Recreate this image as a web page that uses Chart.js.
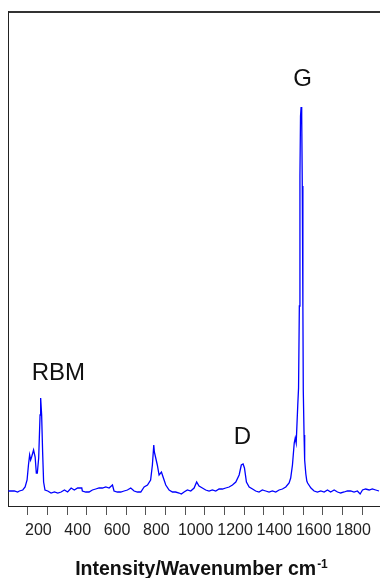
<!DOCTYPE html>
<html>
<head>
<meta charset="utf-8">
<script src="https://cdn.jsdelivr.net/npm/chart.js@4.4.1/dist/chart.umd.min.js"></script>
<style>
  html, body { margin: 0; padding: 0; background: #fff; }
  canvas { display: block; }
</style>
</head>
<body>
<canvas id="spectrum" width="380" height="578"></canvas>
<script>

// Raman spectrum (wavenumber cm-1, intensity a.u.)
const wavenumbers = [
    2, 32, 49, 58, 75, 87, 97, 104, 110, 115, 120, 130, 138, 144, 149, 156, 163, 166, 171, 176,
    181, 188, 202, 219, 236, 253, 270, 287, 303, 321, 337, 354, 375, 378, 395, 412, 429, 446, 463, 480,
    497, 514, 531, 539, 556, 573, 590, 607, 624, 641, 658, 675, 692, 709, 725, 734, 741, 744, 751, 759,
    768, 780, 790, 802, 819, 836, 852, 870, 881, 895, 912, 929, 946, 959, 971, 988, 1005, 1022, 1039, 1056,
    1073, 1090, 1107, 1124, 1141, 1158, 1175, 1186, 1195, 1202, 1212, 1226, 1243, 1259, 1276, 1293, 1310, 1327, 1344, 1361,
    1378, 1395, 1412, 1429, 1437, 1446, 1455, 1460, 1465, 1473, 1477, 1481, 1484, 1487, 1490, 1493, 1496, 1499, 1501, 1505, 1508,
    1514, 1519, 1523, 1540, 1556, 1573, 1590, 1607, 1624, 1640, 1658, 1675, 1691, 1709, 1725, 1742, 1759, 1776, 1790, 1802,
    1818, 1836, 1852, 1869, 1886
]

const intensities = [
    15, 15, 14, 15, 16, 19, 26, 41, 51, 46, 49, 56, 49, 33, 33, 48, 91, 108, 91, 54,
    24, 16, 15, 13, 14, 13, 14, 16, 14, 18, 16, 18, 18, 15, 14, 14, 16, 17, 18, 18,
    19, 18, 21, 15, 14, 14, 15, 16, 18, 15, 14, 14, 19, 21, 26, 41, 61, 54, 48, 41,
    31, 34, 28, 21, 16, 14, 14, 13, 12, 14, 16, 15, 18, 24, 20, 18, 16, 15, 16, 15,
    17, 17, 18, 19, 21, 24, 31, 41, 42, 38, 24, 19, 17, 15, 14, 16, 15, 14, 15, 14,
    16, 17, 19, 23, 28, 41, 63, 68, 63, 101, 118, 200, 330, 390, 399, 390, 320, 200, 116, 71, 46,
    32, 25, 23, 18, 15, 14, 15, 14, 16, 14, 16, 14, 13, 14, 15, 15, 14, 15, 12, 16,
    17, 16, 17, 16, 15
]

// labelled ticks on the wavenumber axis
const xTickLabels = [200, 400, 600, 800, 1000, 1200, 1400, 1600, 1800]

// peak names and where they sit (wavenumber, intensity)
const peakNames = ["RBM", "D", "G"]
const peakLabelX = [256, 1191, 1497]
const peakLabelY = [133, 69, 427]

const axisTitle = "Intensity/Wavenumber cm"
const axisTitleSup = "-1"

const FONT = "'Liberation Sans', Arial, Helvetica, sans-serif"

const points = wavenumbers.map((w, i) => ({ x: w, y: intensities[i] }))

const framePlugin = {
    id: "frame",
    beforeDatasetsDraw(chart){
        const ctx = chart.ctx
        const a = chart.chartArea
        ctx.save()
        ctx.strokeStyle = "#333"
        ctx.lineWidth = 2
        ctx.beginPath()
        ctx.moveTo(a.left, a.top + 1)
        ctx.lineTo(a.right, a.top + 1)
        ctx.stroke()
        ctx.lineWidth = 1
        ctx.strokeStyle = "#222"
        ctx.beginPath()
        ctx.moveTo(a.left + 0.5, a.top)
        ctx.lineTo(a.left + 0.5, a.bottom)
        ctx.stroke()
        ctx.restore()
    },
    afterDraw(chart){
        const ctx = chart.ctx
        const xs = chart.scales.x
        const ys = chart.scales.y
        ctx.save()
        ctx.fillStyle = "#111"
        ctx.textAlign = "center"
        ctx.textBaseline = "middle"
        ctx.font = "24px " + FONT
        peakNames.forEach((name, i)=>{
            ctx.fillText(name, xs.getPixelForValue(peakLabelX[i]), ys.getPixelForValue(peakLabelY[i]))
        })

        // axis title with superscript
        ctx.textAlign = "left"
        ctx.textBaseline = "alphabetic"
        ctx.font = "bold 19.5px " + FONT
        const w1 = ctx.measureText(axisTitle).width
        ctx.font = "bold 12px " + FONT
        const w2 = ctx.measureText(axisTitleSup).width
        const start = 201 - (w1 + w2) / 2
        const base = 575
        ctx.font = "bold 19.5px " + FONT
        ctx.fillText(axisTitle, start, base)
        ctx.font = "bold 12px " + FONT
        ctx.fillText(axisTitleSup, start + w1 + 1, base - 7)
        ctx.restore()
    }
}

new Chart(document.getElementById("spectrum"), {
    type: "line",
    data: {
        datasets: [{
            data: points,
            borderColor: "#0000ff",
            borderWidth: 1.3,
            pointRadius: 0,
            fill: false,
            tension: 0
        }]
    },
    options: {
        responsive: false,
        animation: false,
        devicePixelRatio: 1,
        layout: { padding: { left: 8, top: 11, right: 0, bottom: 0 } },
        plugins: {
            legend: { display: false },
            tooltip: { enabled: false }
        },
        scales: {
            x: {
                type: "linear",
                min: 0,
                max: 1891,
                afterFit(scale){
                    scale.height = 72
                    scale.paddingLeft = 0
                    scale.paddingRight = 0
                },
                afterBuildTicks(scale){
                    const t = []
                    for(let v = 100; v <= 1800; v += 100) t.push({ value: v })
                    scale.ticks = t
                },
                border: { display: true, color: "#222", width: 1 },
                grid: {
                    drawOnChartArea: false,
                    drawTicks: true,
                    tickLength: 9,
                    tickColor: "#555",
                    tickWidth: 1
                },
                ticks: {
                    autoSkip: false,
                    maxRotation: 0,
                    labelOffset: -9,
                    padding: 6,
                    color: "#222",
                    font: { family: FONT, size: 16 },
                    callback: (v)=> xTickLabels.includes(v) ? String(v) : ""
                }
            },
            y: {
                display: false,
                min: 0,
                max: 495
            }
        }
    },
    plugins: [framePlugin]
})

</script>
</body>
</html>
